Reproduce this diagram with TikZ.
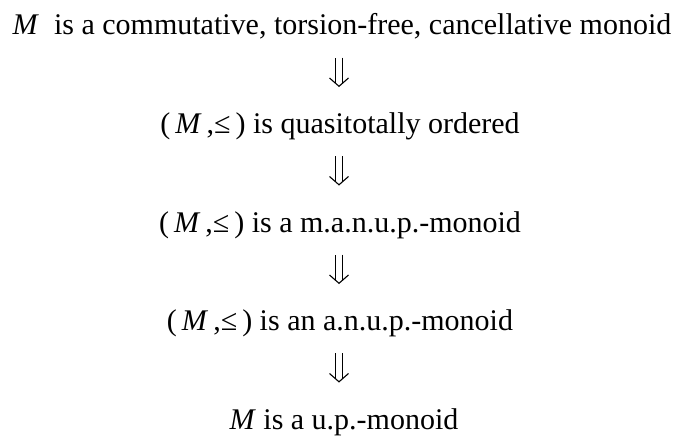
\documentclass[tikz,border=0pt]{standalone}
\usepackage{fontspec}
\setmainfont{Liberation Serif}
\tikzset{
  stmt/.style={anchor=base, inner sep=0pt, text height=21pt, text depth=7pt,
    font=\fontsize{30}{36}\selectfont},
  dstem/.style={double, double distance=6.4pt, line width=1.1pt,
    shorten <=15.5pt, shorten >=29.4pt},
  vtip/.style={line width=1.1pt, line join=miter}
}
\begin{document}
\begin{tikzpicture}[x=1pt,y=1pt]
\useasboundingbox (0,0) rectangle (676,-441);
\node[stmt] (l1) at (342,-35) {\textit{M}\ \ is a commutative, torsion-free, cancellative monoid};
\node[stmt] (l2) at (340,-133.5) {(\,\textit{M}\,,≤\,) is quasitotally ordered};
\node[stmt] (l3) at (340,-232) {(\,\textit{M}\,,≤\,) is a m.a.n.u.p.-monoid};
\node[stmt] (l4) at (340,-330.5) {(\,\textit{M}\,,≤\,) is an a.n.u.p.-monoid};
\node[stmt] (l5) at (344,-429) {\textit{M} is a u.p.-monoid};
\foreach \a/\b in {l1/l2,l2/l3,l3/l4,l4/l5}{
  \draw[dstem] (\a.south -| 339,0) -- (\b.north -| 339,0);
  \draw[vtip] ([shift={(-9.5pt,34.3pt)}]\b.north -| 339,0)
    -- ([yshift=26pt]\b.north -| 339,0)
    -- ([shift={(9.5pt,34.3pt)}]\b.north -| 339,0);
}
\end{tikzpicture}
\end{document}
